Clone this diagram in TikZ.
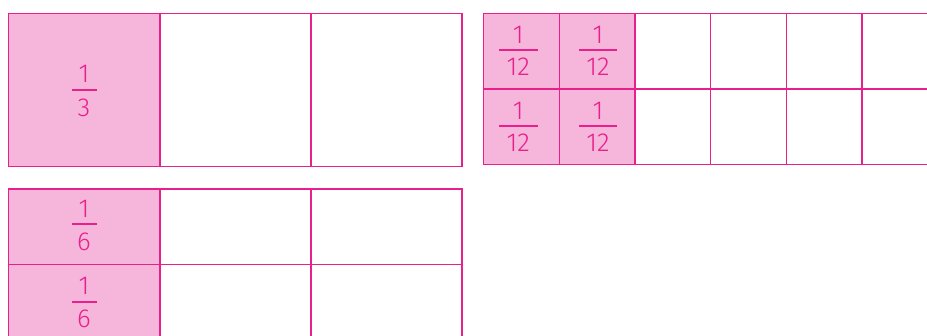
\documentclass[tikz,border=0pt]{standalone}
\usepackage{fontspec}
\setmainfont{Fira Sans}[UprightFont=* Light]
\definecolor{mag}{HTML}{E8208C}
\definecolor{pinkfill}{HTML}{F6B5DB}
\tikzset{
  cellbox/.style={draw=mag, line width=1.4pt},
  shaded/.style={cellbox, fill=pinkfill},
  numtext/.style={text=mag, font=\fontsize{26}{26}\selectfont, inner sep=0pt, anchor=center},
  fbar/.style={draw=mag, line width=2.3pt}
}
\begin{document}
\begin{tikzpicture}[x=1pt,y=-1pt]
\useasboundingbox (0,0) rectangle (927,336);
\clip (0,0) rectangle (927,336);
% top-left: thirds
\path[shaded] (8.5,13.5) rectangle (160,166.5);
\path[cellbox] (160,13.5) rectangle (311,166.5);
\path[cellbox] (311,13.5) rectangle (462,166.5);
% bottom-left: sixths
\path[shaded] (8.5,189) rectangle (160,264.7);
\path[shaded] (8.5,264.7) rectangle (160,340.4);
\foreach \y in {189,264.7}{
  \path[cellbox] (160,\y) rectangle (311,\y+75.7);
  \path[cellbox] (311,\y) rectangle (462,\y+75.7);
}
% right: twelfths
\foreach \c in {0,...,5}{
  \foreach \r in {0,1}{
    \pgfmathsetmacro\xa{483.5+75.7*\c}
    \pgfmathsetmacro\ya{13.5+75.6*\r}
    \ifnum\c<2
      \path[shaded] (\xa,\ya) rectangle (\xa+75.7,\ya+75.6);
    \else
      \path[cellbox] (\xa,\ya) rectangle (\xa+75.7,\ya+75.6);
    \fi
  }
}
% fractions
\node[numtext] (n3) at (84,74) {1};
\node[numtext] (d3) at (84,108) {3};
\coordinate (b3l) at (71.5,89.7); \coordinate (b3r) at (96.5,89.7);
\draw[fbar] (b3l) -- (b3r);

\foreach \yc [count=\i] in {224.3,301.7}{
  \node[numtext] (n6\i) at (84,\yc-15.5) {1};
  \node[numtext] (d6\i) at (84,\yc+17.5) {6};
  \coordinate (b6l\i) at (71.5,\yc); \coordinate (b6r\i) at (96.5,\yc);
  \draw[fbar] (b6l\i) -- (b6r\i);
}

\foreach \xc [count=\i] in {518.3,598}{
  \foreach \yc [count=\j] in {50,126}{
    \node[numtext] (n12\i\j) at (\xc,\yc-15.5) {1};
    \node[numtext] (d12\i\j) at (\xc,\yc+17) {12};
    \coordinate (b12l\i\j) at (\xc-19.3,\yc); \coordinate (b12r\i\j) at (\xc+19.3,\yc);
    \draw[fbar] (b12l\i\j) -- (b12r\i\j);
  }
}
\end{tikzpicture}
\end{document}
